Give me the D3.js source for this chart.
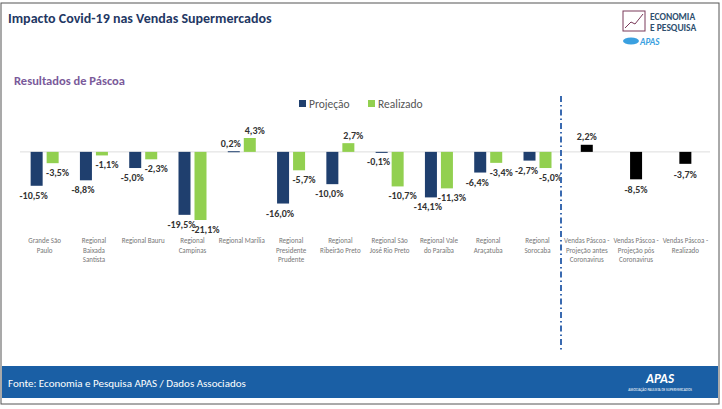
<!DOCTYPE html>
<html><head><meta charset="utf-8">
<script src="https://cdn.jsdelivr.net/npm/d3@7"></script>
<style>body{margin:0;background:#fff;font-family:Calibri,Carlito,"Open Sans",sans-serif}</style>
</head><body>
<script>
// data
var categories = ['Grande São|Paulo','Regional|Baixada|Santista','Regional Bauru','Regional|Campinas','Regional Marília',
  'Regional|Presidente|Prudente','Regional|Ribeirão Preto','Regional São|José Rio Preto','Regional Vale|do Paraíba',
  'Regional|Araçatuba','Regional|Sorocaba','Vendas Páscoa -|Projeção antes|Coronavirus','Vendas Páscoa -|Projeção pós|Coronavirus','Vendas Páscoa -|Realizado'];
var projecao  = [-10.5, -8.8, -5.0, -19.5, 0.2, -16.0, -10.0, -0.1, -14.1, -6.4, -2.7];
var realizado = [-3.5, -1.1, -2.3, -21.1, 4.3, -5.7, 2.7, -10.7, -11.3, -3.4, -5.0];
var totais    = [2.2, -8.5, -3.7];

var w = 722, h = 409;
var svg = d3.select('body').append('svg').attr('width', w).attr('height', h);
svg.attr('font-family', 'Calibri, Carlito, "Open Sans", sans-serif');

svg.append('rect').attr('x', 1).attr('y', 3).attr('width', w - 4).attr('height', h - 8)
  .attr('fill', '#fff').attr('stroke', '#555').attr('stroke-width', 1);
svg.append('text').attr('x', 8).attr('y', 23).attr('font-size', 14).attr('font-weight', 'bold')
  .attr('fill', '#1f3864').text('Impacto Covid-19 nas Vendas Supermercados');
svg.append('text').attr('x', 14).attr('y', 85).attr('font-size', 12.5).attr('font-weight', 'bold')
  .attr('fill', '#7a5a9a').text('Resultados de Páscoa');

// logo
var lg = svg.append('g').attr('transform', 'translate(623,11)');
lg.append('rect').attr('width', 22).attr('height', 20).attr('fill', 'none').attr('stroke', '#7a3a5a');
lg.append('path').attr('d', 'M2,17 L8,11 L12,13 L20,3').attr('fill', 'none').attr('stroke', '#7a3a5a');
lg.append('text').attr('x', 27).attr('y', 9).attr('font-size', 9.5).attr('font-weight', 'bold').attr('fill', '#2f4f6f').text('ECONOMIA');
lg.append('text').attr('x', 27).attr('y', 20).attr('font-size', 9.5).attr('font-weight', 'bold').attr('fill', '#2f4f6f').text('E PESQUISA');
lg.append('ellipse').attr('cx', 8).attr('cy', 30).attr('rx', 8).attr('ry', 3.5).attr('fill', '#3aa0e0');
lg.append('text').attr('x', 17).attr('y', 34).attr('font-size', 9).attr('font-weight', 'bold').attr('font-style', 'italic').attr('fill', '#3aa0e0').text('APAS');

var x = d3.scaleBand().domain(d3.range(categories.length)).range([20, 710]);
var y = d3.scaleLinear().domain([-21.1, 4.3]).range([220, 138]);
var bw = 12;
var fmt = function(v) { return v.toFixed(1).replace('.', ',') + '%'; };
var cx = function(i) { return x(i) + x.bandwidth() / 2; };

svg.append('line').attr('x1', 20).attr('x2', 710).attr('y1', y(0)).attr('y2', y(0)).attr('stroke', '#ddd');

function bars(vals, off, color) {
  svg.selectAll(null).data(vals).enter().append('rect')
    .attr('x', function(d, i) { return cx(i) + off; })
    .attr('y', function(d) { return Math.min(y(d), y(0)); })
    .attr('width', bw)
    .attr('height', function(d) { return Math.max(1, Math.abs(y(d) - y(0))); })
    .attr('fill', color);
}
bars(projecao, -14, '#1f3f6e');
bars(realizado, 2, '#92d050');
var tot = totais.map(function(v, k) { return {v: v, i: k + 11}; });
svg.selectAll(null).data(tot).enter().append('rect')
  .attr('x', function(d) { return cx(d.i) - bw / 2; })
  .attr('y', function(d) { return Math.min(y(d.v), y(0)); })
  .attr('width', bw).attr('height', function(d) { return Math.abs(y(d.v) - y(0)); })
  .attr('fill', '#000');

function labels(vals, off, dy) {
  svg.selectAll(null).data(vals).enter().append('text')
    .attr('x', function(d, i) { return cx(i) + off; })
    .attr('y', function(d) { return d >= 0 ? y(d) - 4 : y(d) + dy; })
    .attr('text-anchor', 'middle').attr('font-size', 10).attr('font-weight', 'bold').attr('fill', '#333')
    .text(fmt);
}
labels(projecao, -11, 13);
labels(realizado, 13, 13);
svg.selectAll(null).data(tot).enter().append('text')
  .attr('x', function(d) { return cx(d.i); })
  .attr('y', function(d) { return d.v >= 0 ? y(d.v) - 5 : y(d.v) + 14; })
  .attr('text-anchor', 'middle').attr('font-size', 10).attr('font-weight', 'bold').attr('fill', '#333')
  .text(function(d) { return fmt(d.v); });

// category labels
svg.selectAll(null).data(categories).enter().append('text')
  .attr('font-size', 7).attr('fill', '#777').attr('text-anchor', 'middle')
  .each(function(d, i) {
    var t = d3.select(this);
    d.split('|').forEach(function(s, k) {
      t.append('tspan').attr('x', cx(i)).attr('y', 243 + k * 9.5).text(s);
    });
  });

// separator
svg.append('line').attr('x1', 561).attr('x2', 561).attr('y1', 96).attr('y2', 352)
  .attr('stroke', '#3a6ab0').attr('stroke-width', 2).attr('stroke-dasharray', '6,3,1.5,3');

// legend
var leg = [['Projeção', '#1f3f6e', 299], ['Realizado', '#92d050', 368]];
leg.forEach(function(l) {
  svg.append('rect').attr('x', l[2]).attr('y', 100).attr('width', 7).attr('height', 7).attr('fill', l[1]);
  svg.append('text').attr('x', l[2] + 10).attr('y', 108).attr('font-size', 11.5).attr('fill', '#555').text(l[0]);
});

// footer
svg.append('rect').attr('x', 2).attr('y', 366).attr('width', w - 6).attr('height', 32).attr('fill', '#1a5fa5');
svg.append('text').attr('x', 8).attr('y', 387).attr('font-size', 11).attr('fill', '#fff')
  .text('Fonte: Economia e Pesquisa APAS / Dados Associados');
svg.append('text').attr('x', 660).attr('y', 383).attr('font-size', 13).attr('font-weight', 'bold')
  .attr('font-style', 'italic').attr('text-anchor', 'middle').attr('fill', '#fff').text('APAS');
svg.append('text').attr('x', 660).attr('y', 391).attr('font-size', 3.5)
  .attr('text-anchor', 'middle').attr('fill', '#fff').text('ASSOCIAÇÃO PAULISTA DE SUPERMERCADOS');
</script>
</body></html>
